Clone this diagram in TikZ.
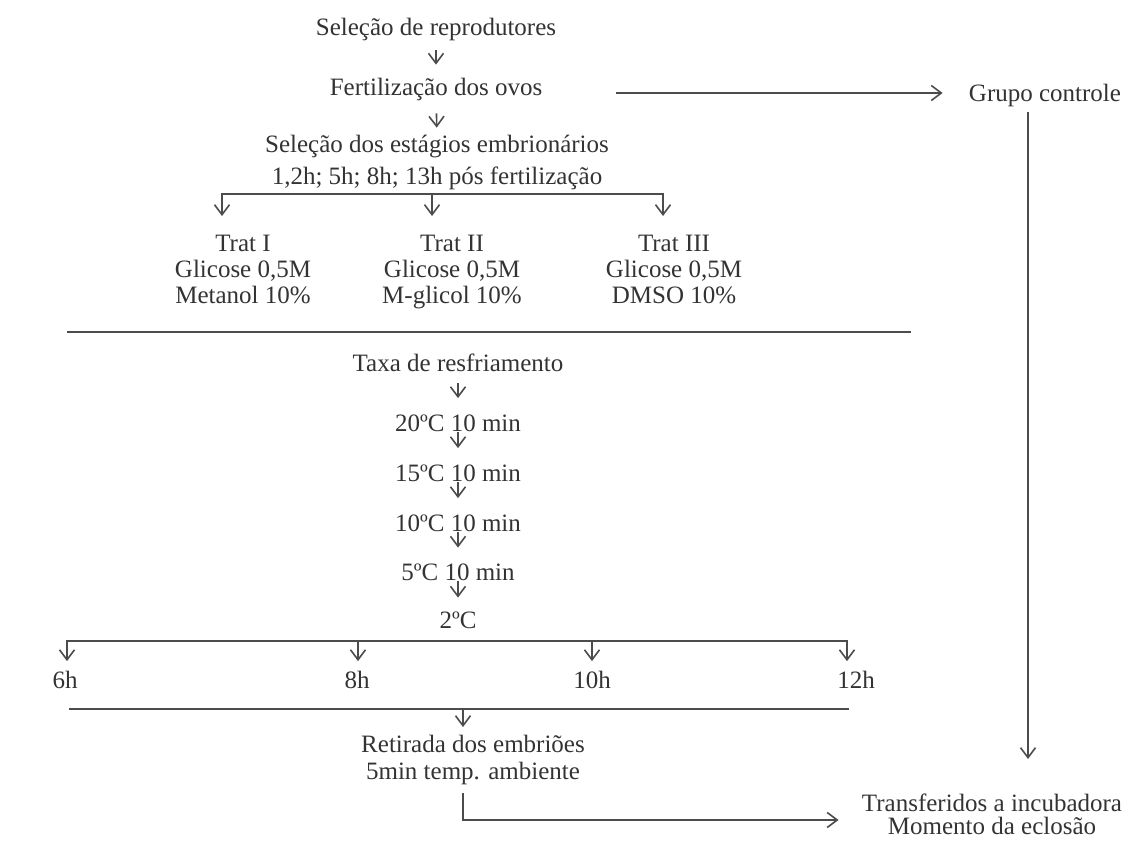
\documentclass[tikz,border=0pt]{standalone}
\usepackage{fontspec}
\setmainfont{Liberation Serif}
\usetikzlibrary{positioning}
\usetikzlibrary{arrows.meta}

\definecolor{tinta}{gray}{0.2}
\definecolor{traco}{gray}{0.3}

\begin{document}
\begin{tikzpicture}[x=0.5pt, y=-0.5pt,
    every node/.style={font=\fontsize{12.5}{13}\selectfont, text=tinta, inner sep=0pt, text height=8.5pt, text depth=0pt},
    bloco/.style={align=center, text height=, text depth=},
    seta/.style={draw=traco, line width=0.8pt, -{Straight Barb[length=5pt,width=7.5pt]}},
    linha/.style={draw=traco, line width=0.8pt, line cap=rect}]
            \useasboundingbox (0,0) rectangle (1128,841);

            % Nós
            \node (sel) at (436,27) {Seleção de reprodutores};
            \node (fert) at (436,87) {Fertilização dos ovos};
            \node (est) at (437,144) {Seleção dos estágios embrionários};
            \node (hrs) at (437,176) {1,2h; 5h; 8h; 13h pós fertilização};
            \node (grupo) at (1045,93) {Grupo controle};
            \node[bloco, anchor=north] (t1) at (243,235) {Trat I\\Glicose 0,5M\\Metanol 10\%};
            \node[bloco, anchor=north] (t2) at (452,235) {Trat II\\Glicose 0,5M\\M-glicol 10\%};
            \node[bloco, anchor=north] (t3) at (674,235) {Trat III\\Glicose 0,5M\\DMSO 10\%};
            \node (taxa) at (458,363) {Taxa de resfriamento};
            \node (c20) at (458,423) {20ºC 10 min};
            \node (c15) at (458,473) {15ºC 10 min};
            \node (c10) at (458,523) {10ºC 10 min};
            \node (c5) at (458,572) {5ºC 10 min};
            \node (c2) at (458,620) {2ºC};
            \node (h6) at (65,680) {6h};
            \node (h8) at (357,680) {8h};
            \node (h10) at (592,680) {10h};
            \node (h12) at (856,680) {12h};
            \node[bloco, anchor=north, font=\fontsize{12.5}{13.5}\selectfont] (ret) at (473,735) {Retirada dos embriões\\5min temp. ambiente};
            \node[bloco, anchor=north, font=\fontsize{12.5}{11.5}\selectfont] (transf) at (992,793) {Transferidos a incubadora\\Momento da eclosão};

            % Pontos dos ramos
            \coordinate (a1) at (222,194);
            \coordinate (a2) at (432,194);
            \coordinate (a3) at (663,194);
            \coordinate (b1) at (67,641);
            \coordinate (b2) at (358,641);
            \coordinate (b3) at (592,641);
            \coordinate (b4) at (847,641);
            \coordinate (c1) at (70,709);
            \coordinate (c0) at (463,709);
            \coordinate (c3) at (848,709);
            \coordinate (r1) at (463,820);
            \coordinate (g0) at (1028,93);

            % Setas
            \draw[seta, shorten <=7.25pt, shorten >=6.75pt] (sel) -- (fert);
            \draw[seta, shorten <=8.75pt, shorten >=3.75pt] (fert) -- (est);
            \draw[seta, shorten <=36.5pt, shorten >=13pt] (fert.east |- grupo) -- (grupo.west);
            \draw[seta, shorten <=5pt, shorten >=17pt] (grupo.south -| g0) -- (g0 |- transf.north);

            \draw[linha] (a1) -- (a3);
            \draw[seta, shorten >=9.5pt] (a1) -- (a1 |- t1.north);
            \draw[seta, shorten >=9.5pt] (a2) -- (a2 |- t2.north);
            \draw[seta, shorten >=9.5pt] (a3) -- (a3 |- t3.north);

            \draw[linha] (68,332) -- (910,332);

            \draw[seta, shorten <=5.75pt, shorten >=8pt] (taxa) -- (c20);
            \draw[seta, shorten >=8pt] (c20) -- (c15);
            \draw[seta, shorten >=8pt] (c15) -- (c10);
            \draw[seta, shorten >=7.75pt] (c10) -- (c5);
            \draw[seta, shorten >=6.75pt] (c5) -- (c2);

            \draw[linha] (b1) -- (b4);
            \draw[seta, shorten >=5pt] (b1) -- (b1 |- h6.north);
            \draw[seta, shorten >=5pt] (b2) -- (b2 |- h8.north);
            \draw[seta, shorten >=5pt] (b3) -- (b3 |- h10.north);
            \draw[seta, shorten >=5pt] (b4) -- (b4 |- h12.north);

            \draw[linha] (c1) -- (c3);
            \draw[seta, shorten >=4pt] (c0) -- (c0 |- ret.north);
            \draw[seta, shorten <=4pt, shorten >=11.5pt] (r1 |- ret.south) -- (r1) -- (r1 -| transf.west);
          \end{tikzpicture}
\end{document}
